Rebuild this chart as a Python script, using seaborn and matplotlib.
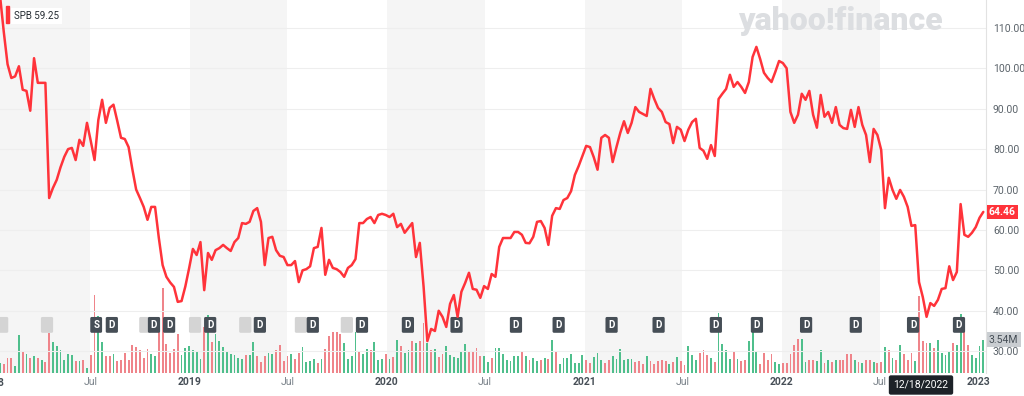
import numpy as np
import pandas as pd
import seaborn as sns
import matplotlib.pyplot as plt
import matplotlib.dates as mdates
from matplotlib.patches import Rectangle
from matplotlib.ticker import StrMethodFormatter
from matplotlib.transforms import blended_transform_factory

# weekly closes of SPB (first week 2018-01-15)
start = "2018-01-15"
price = [
    118, 109, 101, 97.6, 98, 100.5, 94.7, 94.4, 89.5, 102.5,
    96.4, 96.4, 96.4, 67.9, 70.4, 72.4, 75.5, 78.1, 80.0, 80.3,
    77.3, 82.3, 80.8, 86.5, 82, 77.3, 87.2, 92.2, 86.5, 90.2,
    91, 87, 82.8, 82.5, 80.5, 75, 70, 67.9, 65.7, 62.5,
    65.7, 65.7, 58, 51.3, 48.4,
    47, 45.9, 42.2, 42.4, 46, 50.5, 55.3, 53.8, 57, 45.1,
    54.3, 52.6, 55, 55.5, 56.3, 55.5, 54.8, 57, 58, 61.7,
    61.5, 62, 64.7, 65.4, 62, 51.3, 58, 58.3, 55, 53.6,
    53.3, 51.3, 51.3, 52.3, 47.1, 50, 50.3, 51, 55.5, 55.8,
    60.5, 48.9, 52.6, 50.6,
    50.3, 49.6, 48.4, 50.6, 51.3, 52.8, 61.7, 61.7, 62.7, 63.2,
    61.7, 63.7, 64, 63.7, 63.2, 64, 60.7, 61.5, 59.3, 60.5,
    61.7, 53.3, 56.8, 46, 32.5, 35.5, 35, 40, 38.5, 36,
    41.7, 43.9, 38.5, 44.7, 46.9, 49.4, 45.4, 45.2, 43.2, 46.1,
    45.4, 49.1, 48.4, 55.8,
    58, 58, 58, 59.5, 59.5, 58.8, 56.8, 56.7, 58.3, 62,
    62.2, 60.5, 56.3, 63.5, 65.4, 65.2, 67.4, 67.9, 69.6, 73.6,
    75.8, 78.3, 80.8, 80.5, 78, 74.9, 82.8, 83.5, 82.8, 76.8,
    80.5, 84, 86.9, 84, 86.5, 90.4, 89.2, 88.7, 88.2, 94.9,
    92.4, 90.2, 89.2, 86.7,
    86.2, 81.5, 85.5, 84.8, 82, 84.8, 86.7, 87.5, 80.3, 79.6,
    77.6, 81, 78.3, 92.4, 93.7, 94.9, 98.4, 95.4, 96.6, 95.4,
    93.9, 96.6, 102.8, 105.3, 102.3, 98.9, 97.6, 96.6, 99.1, 101.8,
    101.3, 100, 89.2, 86.5, 88.5, 93.7, 92.2, 94.4, 88.5, 85.3,
    93.4, 88, 89.2,
    86.5, 90.4, 86, 85.2, 85, 89.7, 85.5, 90.4, 86, 83.5,
    76.8, 85, 83.5, 79.8, 65.4, 72.9, 69.9, 67.7, 69.9, 68.2,
    65.7, 61, 61.2, 47.1, 43.4, 38.5, 41.9, 41.2, 42.7, 45.4,
    45.6, 51, 47.6, 49.6, 66.4, 58.8, 58.3, 59.3, 60.7, 63,
    64.46,
]

# weekly volume, millions of shares
volume = [
    1.06, 1.0, 1.63, 1.63, 0.74, 4.0, 2.23, 1.98, 1.63, 1.8,
    1.63, 1.35, 1.17, 4.24, 3.29, 2.83, 2.48, 1.42, 2.06, 1.88,
    1.27, 1.27, 1.35, 0.53, 1.88, 8.27, 6.01, 3.29, 1.8, 1.8,
    2.06, 1.24, 1.42, 2.16, 1.35, 2.94, 2.76, 2.48, 1.63, 2.51,
    1.98, 1.77, 4.88, 9.01, 3.12, 2.16, 2.51, 4.18, 1.88, 2.69,
    2.83, 2.48, 2.3, 1.53, 4.88, 6.19, 3.29, 4.18, 3.36, 2.76,
    2.33, 1.98, 1.95, 1.59, 1.53, 1.88, 1.88, 3.29, 1.8, 1.17,
    1.77, 2.12, 1.98, 2.48, 2.94, 1.27, 1.77, 2.06, 1.53, 2.12,
    2.76, 1.17, 1.27, 1.53, 1.06, 1.53, 2.59, 3.92, 4.35, 4.35,
    4.1, 3.18,
    1.53, 1.77, 4.35, 2.33, 2.06, 2.51, 2.48, 3.29, 1.42, 1.53,
    1.98, 1.53, 1.7, 3.54, 2.83, 2.12, 2.48, 3.39, 3.18, 3.39,
    5.3, 3.18, 2.48, 2.59, 1.7, 2.06, 2.83, 1.88, 1.7, 1.59,
    2.33, 3.04, 2.23, 2.23, 2.65, 1.77, 1.8, 1.17, 1.63, 2.69,
    2.69, 1.98, 1.35, 1.27, 1.8, 1.8, 2.23, 1.77, 1.42, 1.63,
    1.24, 1.35, 1.63, 1.53, 3.54, 2.23, 0.92, 1.63, 1.63, 2.06,
    1.1, 1.1, 1.88, 1.35, 1.06, 1.7, 2.12, 1.35, 1.06, 1.35,
    1.77, 1.53, 2.59, 1.42, 1.53, 1.53, 1.17, 1.27, 1.0, 1.77,
    1.24, 0.92, 1.27,
    1.42, 1.27, 0.92, 1.17, 1.7, 1.27, 0.82, 2.83, 1.88, 1.42,
    2.12, 2.41, 1.88, 1.63, 1.17, 6.4, 3.12, 2.41, 1.45, 2.23,
    1.45, 1.24, 1.42, 3.39, 5.59, 2.33, 0.92, 2.16, 1.42, 2.06,
    1.17, 0.92, 1.1, 1.1, 1.98, 2.94, 3.65, 3.57, 1.17, 1.35,
    1.35, 1.27, 2.41, 1.1, 1.42, 1.17, 1.35, 1.35, 1.35, 2.06,
    2.06, 1.35, 1.17, 1.06, 1.35, 1.35, 1.17, 1.1, 1.17, 2.76,
    2.48, 1.63, 1.42, 2.94, 2.06, 1.42, 2.12, 1.27, 8.16, 3.36,
    3.18, 3.22, 2.69, 3.47, 2.12, 1.88, 2.23, 3.18, 2.94, 6.3,
    4.71, 2.94, 1.88, 1.63, 2.83, 3.54,
]

# up (g) / down (r) week for each volume bar
vol_dir = (
    "grrrggrgrgrgrrgggggg" "rgrgrrggrrgrrrrrrrrr" "ggrrrrrrggggggrgrggg"
    "gggggrggrrrggrrrrgrr" "ggggrgrrrrrg"
    "gggrggrgggrgrgrggrgr" "rgrgrrggggggrrrrggrg" "ggggggrgrggrgrgrgggg"
    "gggrrgggrrggggggrrrg" "rrr"
    "rrgrgrrgggrrrgrggggr" "grrgggrrrrggrrrrrggr" "rggrgrgrrrrgrgrrgrrg"
    "rgrgrrrgrrrgrggggrgg" "rrgggg"
)

div_dates = ["2018-08-10", "2018-10-27", "2018-11-24", "2019-02-08", "2019-05-11",
             "2019-08-17", "2019-11-16", "2020-02-09", "2020-05-09", "2020-08-27",
             "2020-11-14", "2021-02-20", "2021-05-18", "2021-09-01", "2021-11-16",
             "2022-02-15", "2022-05-18", "2022-09-01", "2022-11-25"]
split_dates = ["2018-07-12"]
event_dates = ["2018-01-19", "2018-04-12", "2018-10-11", "2019-01-11", "2019-04-14",
               "2019-07-26", "2019-10-19"]

ticker = "SPB"
hover_price = 59.25
hover_date = "12/18/2022"
last_volume = 3.54

dates = pd.date_range(start, periods=len(price), freq="7D")
df = pd.DataFrame({"date": dates, "close": price})
vol_df = pd.DataFrame({"date": dates[:len(volume)], "volume": volume,
                       "dir": list(vol_dir[:len(volume)])})

sns.set_style("white")
plt.rcParams["font.family"] = ["Roboto", "DejaVu Sans"]

RED = "#ff333a"
GREEN_BAR = "#4fbf8c"
RED_BAR = "#ef848a"
TXT = "#5b636a"

fig = plt.figure(figsize=(10.24, 3.96), dpi=100)
axv = fig.add_axes([0, 23 / 396, 986 / 1024, 373 / 396])
axp = axv.twinx()

# alternating half-year bands
for yr in range(2018, 2023):
    axv.axvspan(pd.Timestamp(f"{yr}-01-01"), pd.Timestamp(f"{yr}-07-01"),
                color="#f5f5f5", lw=0, zorder=0)

colors = [GREEN_BAR if d == "g" else RED_BAR for d in vol_df["dir"]]
axv.bar(vol_df["date"], vol_df["volume"], width=3.4, color=colors, lw=0, zorder=2)
axv.set_ylim(0, 39.5)
axv.set_yticks([])

# event markers
tr = blended_transform_factory(axv.transData, axv.transAxes)
def marker(d, label, fc, tc):
    axv.text(mdates.date2num(pd.Timestamp(d)), 0.129, label, transform=tr,
             ha="center", va="center", fontsize=7, fontweight="bold", color=tc,
             zorder=5, bbox=dict(boxstyle="round,pad=0.3,rounding_size=0.15", fc=fc, ec="none"))

for d in event_dates:
    marker(d, "D", "#d4d4d4", "#d4d4d4")
for d in split_dates:
    marker(d, "S", "#464e56", "white")
for d in div_dates:
    marker(d, "D", "#464e56", "white")

sns.lineplot(data=df, x="date", y="close", ax=axp, color=RED, lw=1.8, zorder=4)
axp.set_ylim(24.6, 116.9)
axp.set_yticks(np.arange(30, 111, 10))
axp.yaxis.set_major_formatter(StrMethodFormatter("{x:.2f}"))
axp.grid(axis="y", color="#eeeeee", lw=0.8)
axp.set_xlabel("")
axp.set_ylabel("")
axv.set_xlabel("")
axp.tick_params(axis="y", length=0, pad=5, labelsize=7.5, labelcolor=TXT)

axv.set_xlim(dates[0], dates[-1] + pd.Timedelta(days=5))

# x labels
tick_pos = ["2018-07-01", "2019-01-01", "2019-07-01", "2020-01-01", "2020-07-01",
            "2021-01-01", "2021-07-01", "2022-01-01", "2022-07-01", "2023-01-01"]
tick_lab = ["Jul" if t[5:7] == "07" else t[:4] for t in tick_pos]
axv.set_xticks(pd.to_datetime(tick_pos))
axv.set_xticklabels(tick_lab)
axv.tick_params(axis="x", length=0, pad=3, labelsize=7.5)
for lab in axv.get_xticklabels():
    if lab.get_text() == "Jul":
        lab.set_color("#7a828a")
    else:
        lab.set_color("#464e56")
        lab.set_fontweight("semibold")
# 2018 label sits mostly left of the plot, as in the source screenshot
axv.text(mdates.date2num(pd.Timestamp("2018-01-01")), -0.026, "2018",
         transform=tr, ha="center", va="center", fontsize=7.5, fontweight="semibold",
         color="#464e56", clip_on=False)

for ax in (axv, axp):
    for s in ax.spines.values():
        s.set_visible(False)
axp.spines["right"].set_visible(True)
axp.spines["right"].set_color("#e2e2e2")

# right side value tags
axp.text(1.003, price[-1], f"{price[-1]:.2f}", transform=blended_transform_factory(axp.transAxes, axp.transData),
         ha="left", va="center", fontsize=7.5, color="white", fontweight="semibold",
         bbox=dict(boxstyle="square,pad=0.2", fc=RED, ec="none"))
axv.text(1.003, last_volume, f"{last_volume:.2f}M",
         transform=blended_transform_factory(axv.transAxes, axv.transData),
         ha="left", va="center", fontsize=7.5, color="#464e56",
         bbox=dict(boxstyle="square,pad=0.2", fc="#c9cdd1", ec="none"))

# legend
fig.add_artist(Rectangle((6 / 1024, 1 - 23 / 396), 3 / 1024, 17 / 396, color=RED,
                         transform=fig.transFigure))
fig.text(14 / 1024, 1 - 16 / 396, f"{ticker} {hover_price:.2f}", fontsize=7, color="#232a31",
         va="center", ha="left", bbox=dict(boxstyle="square,pad=0.3", fc="white", ec="none"))

# watermark
fig.text(840 / 1024, 1 - 21 / 396, "yahoo!finance", fontsize=23, fontweight="heavy",
         color="#dcdee1", ha="center", va="center")

# crosshair date tag
fig.text(921 / 1024, 1 - 385 / 396, hover_date, fontsize=7.5, color="white",
         ha="center", va="center",
         bbox=dict(boxstyle="round,pad=0.45,rounding_size=0.2", fc="#1d2228", ec="none"))

fig.savefig("out.png", dpi=100)
